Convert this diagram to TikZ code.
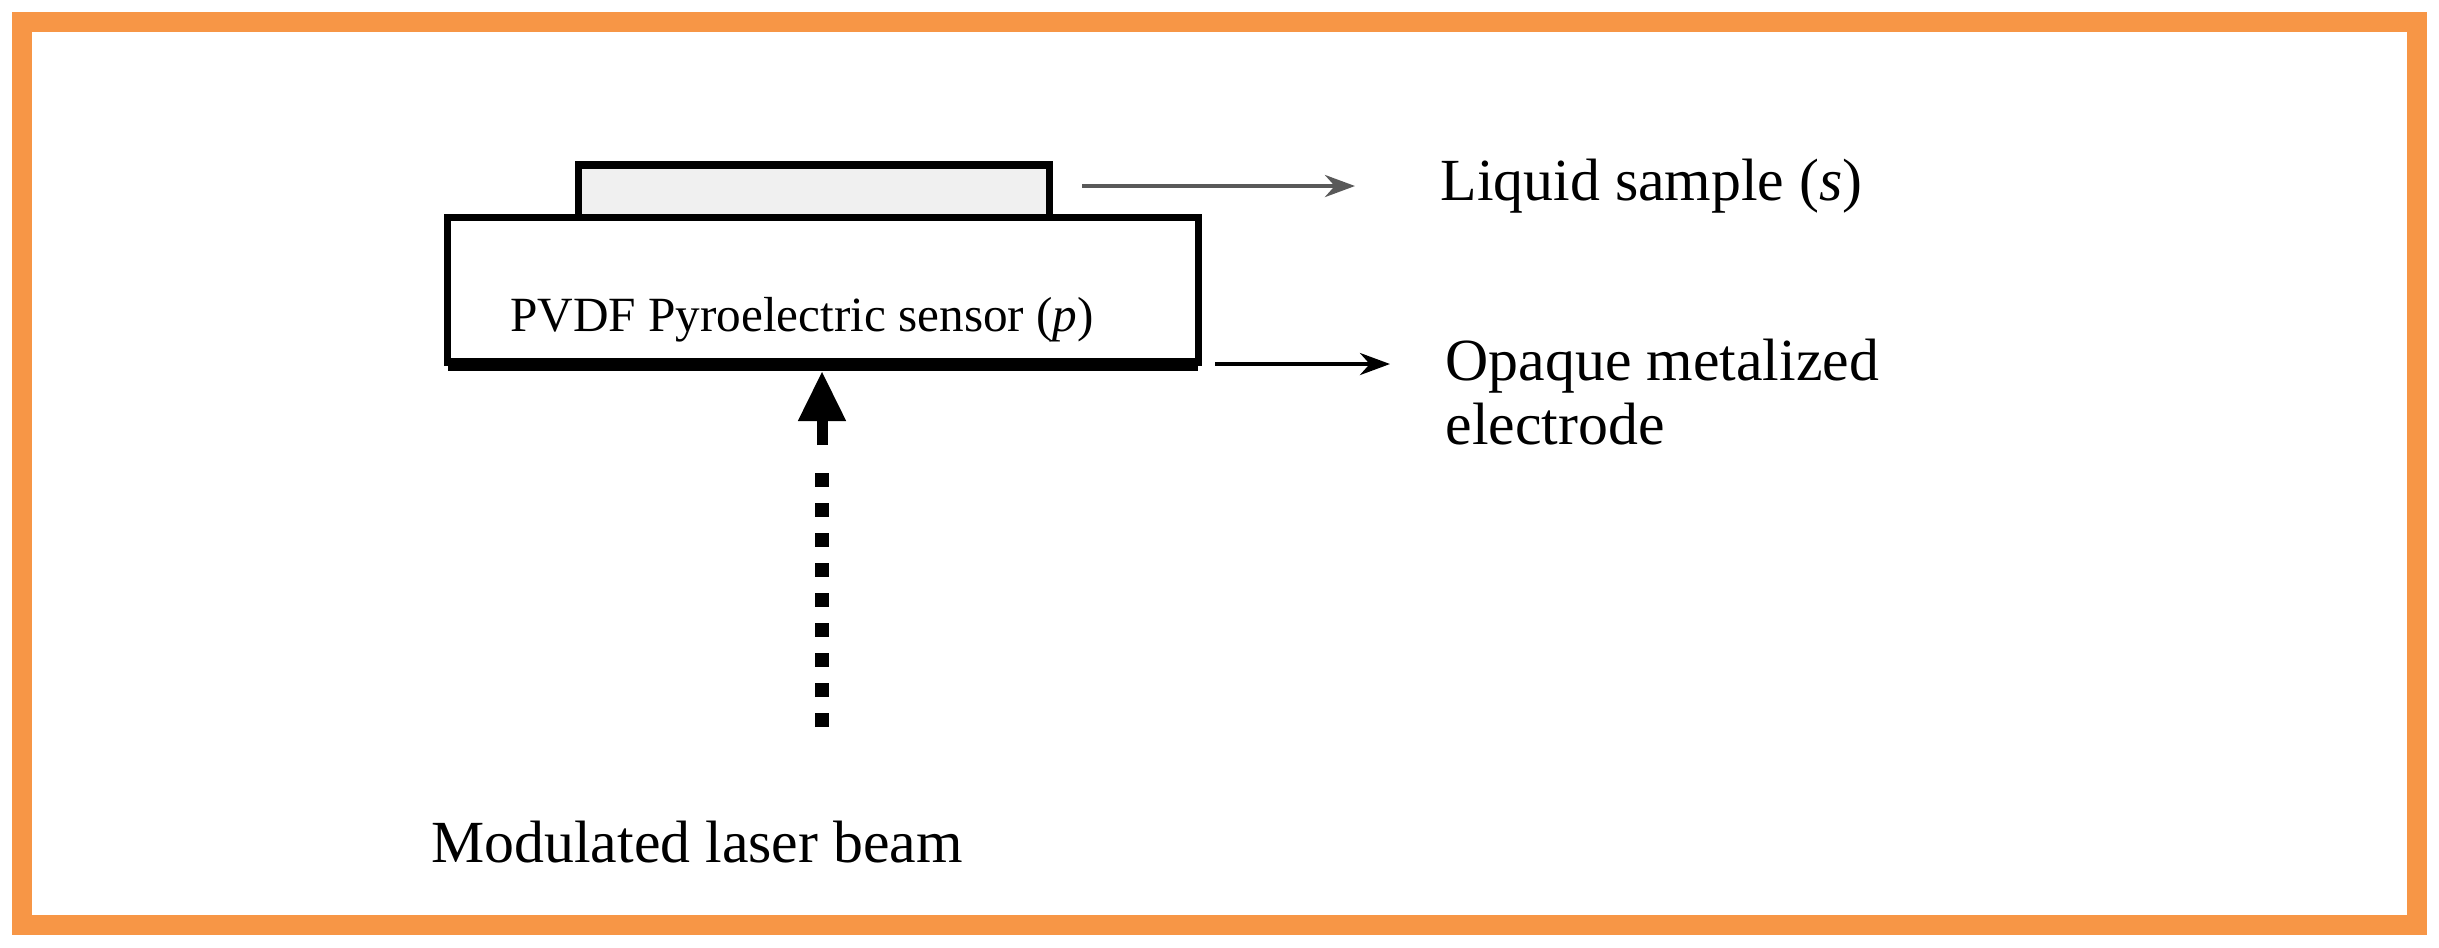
\documentclass[tikz,border=0pt]{standalone}
\usepackage{fontspec}
\setmainfont{Liberation Serif}
\usetikzlibrary{arrows.meta}
\definecolor{frame}{HTML}{F79646}
\tikzset{lbl/.style={anchor=west,font=\fontsize{17}{20}\selectfont,inner sep=0},
 pt/.style={-{Stealth[length=0.3cm,width=0.22cm]},line width=1.2pt}}
\begin{document}
\begin{tikzpicture}[x=0.01cm,y=-0.01cm]
\useasboundingbox (0,0) rectangle (2439,947);
\draw[frame,line width=0.2cm] (22,22) rectangle (2417,925);
\node[draw,line width=2pt,fill=gray!12,minimum width=4.7cm,minimum height=0.54cm,inner sep=0] (liq) at (814,192) {};
\node[draw,line width=2pt,fill=white,minimum width=7.5cm,minimum height=1.45cm,inner sep=0] (sens) at (823,290) {};
\node[font=\fontsize{14}{16}\selectfont] (st) at (802,320) {PVDF Pyroelectric sensor (\textit{p})};
\coordinate (e1) at (448,364); \coordinate (e2) at (1198,364);
\draw[line width=0.13cm] (e1) -- (e2);
\coordinate (a1) at (1082,186); \coordinate (a2) at (1355,186);
\draw[pt,gray!70!black] (a1) -- (a2);
\node[lbl] (ls) at (1440,186) {Liquid sample (\textit{s})};
\coordinate (b1) at (1215,364); \coordinate (b2) at (1390,364);
\draw[pt] (b1) -- (b2);
\node[lbl,align=left] (om) at (1445,392) {Opaque metalized\\[-2pt]electrode};
\coordinate (d1) at (822,727); \coordinate (d2) at (822,458); \coordinate (d3) at (822,445); \coordinate (d4) at (822,371);
\draw[line width=0.14cm,dash pattern=on 0.14cm off 0.16cm] (d1) -- (d2);
\draw[line width=0.11cm,-{Triangle[length=0.5cm,width=0.45cm]}] (d3) -- (d4);
\node[font=\fontsize{17}{20}\selectfont] (ml) at (697,842) {Modulated laser beam};
\end{tikzpicture}
\end{document}
